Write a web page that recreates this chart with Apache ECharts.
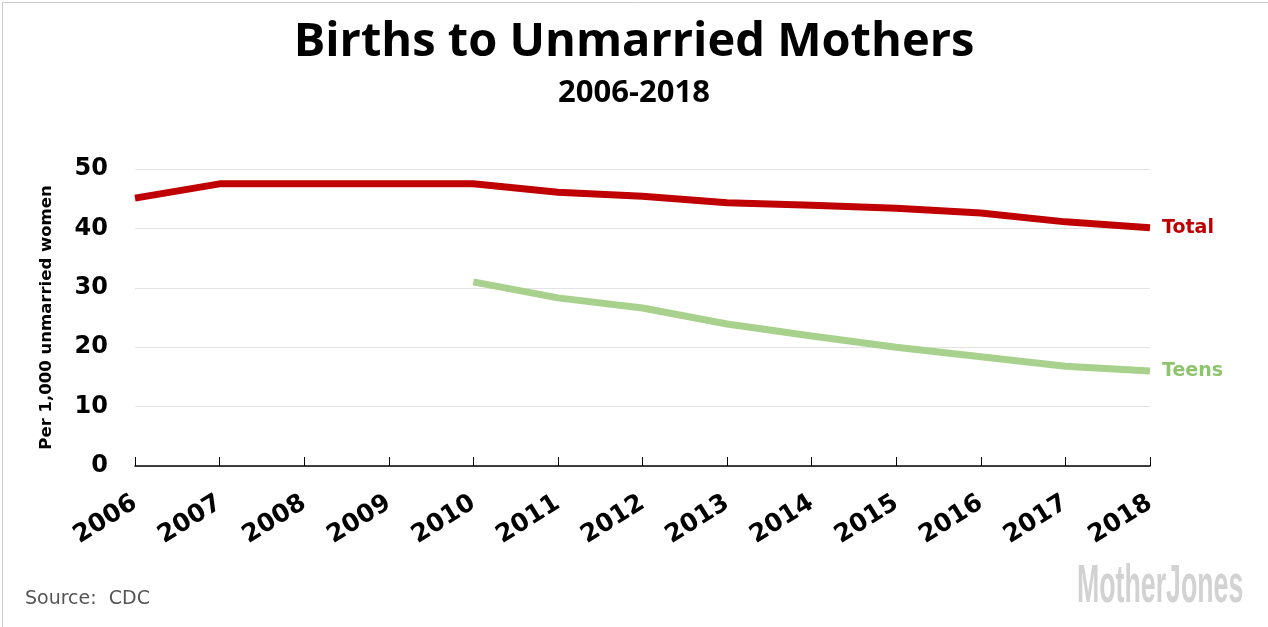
<!DOCTYPE html>
<html>
<head>
<meta charset="utf-8">
<script src="https://cdn.jsdelivr.net/npm/echarts@6/dist/echarts.min.js"></script>
<style>
html,body{margin:0;padding:0;background:#fff;}
#chart{width:1268px;height:627px;}
</style>
</head>
<body>
<div id="chart"></div>
<script>
const years = ['2006','2007','2008','2009','2010','2011','2012','2013','2014','2015','2016','2017','2018'];
const totalRates = [45.1, 47.5, 47.5, 47.5, 47.5, 46.1, 45.4, 44.3, 43.9, 43.4, 42.6, 41.1, 40.1];
const teenRates = [null, null, null, null, 31.0, 28.3, 26.6, 23.9, 21.9, 20.0, 18.4, 16.8, 16.0];
const yTicks = [0, 10, 20, 30, 40, 50];

const chart = echarts.init(document.getElementById('chart'));
chart.setOption({
  animation: false,
  backgroundColor: '#fff',
  title: [
    {text: 'Births to Unmarried Mothers', left: 'center', top: 14,
     textStyle: {fontFamily: 'Open Sans', fontWeight: 'bold', fontSize: 47, color: '#000'}},
    {text: '2006-2018', left: 'center', top: 73,
     textStyle: {fontFamily: 'Open Sans', fontWeight: 'bold', fontSize: 31, color: '#000'}}
  ],
  grid: {left: 135, right: 118, top: 169, bottom: 161},
  xAxis: {
    type: 'category', data: years, boundaryGap: false,
    axisLine: {lineStyle: {color: '#000', width: 1.5}},
    axisTick: {show: true, length: 9, inside: true, lineStyle: {color: '#000'}},
    axisLabel: {rotate: 32, margin: 35, fontFamily: 'DejaVu Sans', fontWeight: 'bold', fontSize: 25, color: '#000'},
    splitLine: {show: false}
  },
  yAxis: {
    type: 'value', min: yTicks[0], max: yTicks[yTicks.length-1], interval: 10,
    name: 'Per 1,000 unmarried women', nameLocation: 'middle', nameGap: 80, nameRotate: 90,
    nameTextStyle: {fontFamily: 'DejaVu Sans', fontWeight: 'bold', fontSize: 16.5, color: '#000'},
    axisLine: {show: false}, axisTick: {show: false},
    axisLabel: {margin: 27, fontFamily: 'DejaVu Sans', fontWeight: 'bold', fontSize: 24, color: '#000'},
    splitLine: {lineStyle: {color: '#e3e3e3', width: 1}}
  },
  series: [
    {name: 'Total', type: 'line', data: totalRates, symbol: 'none',
     lineStyle: {color: '#c00000', width: 7},
     endLabel: {show: true, formatter: 'Total', distance: 12,
       fontFamily: 'DejaVu Sans', fontWeight: 'bold', fontSize: 19, color: '#c00000'}},
    {name: 'Teens', type: 'line', data: teenRates, symbol: 'none',
     lineStyle: {color: '#a9d18e', width: 7},
     endLabel: {show: true, formatter: 'Teens', distance: 12,
       fontFamily: 'DejaVu Sans', fontWeight: 'bold', fontSize: 19, color: '#8fc46f'}}
  ],
  graphic: [
    {type: 'text', left: 25, top: 590,
     style: {text: 'Source:  CDC', fontFamily: 'DejaVu Sans', fontSize: 19, fill: '#555'}},
    {type: 'text', x: 1077, y: 560, scaleX: 0.495,
     style: {text: 'MotherJones', fontFamily: 'Liberation Sans', fontWeight: 'bold', fontSize: 54, fill: '#d2d2d2'}},
    {type: 'rect', left: 0, top: 0, shape: {x: 0.5, y: 0.5, width: 1266, height: 625},
     style: {fill: 'none', stroke: '#cccccc', lineWidth: 1}, silent: true}
  ]
});
</script>
</body>
</html>
